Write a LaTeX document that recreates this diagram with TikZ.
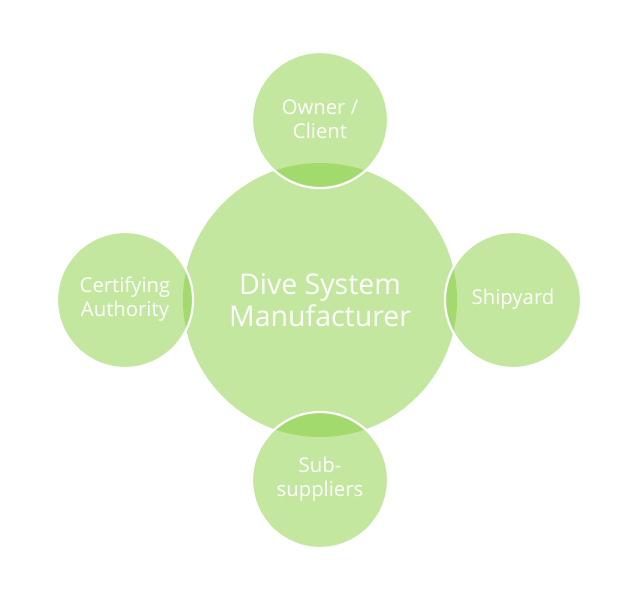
\documentclass[tikz,border=0pt]{standalone}
\usepackage{fontspec}
\setmainfont{Open Sans}
\definecolor{lgreen}{RGB}{195,231,158}
\definecolor{dgreen}{RGB}{162,218,110}
\tikzset{
  hub/.style={circle, fill=lgreen, minimum size=274pt, inner sep=0pt, text=white, font=\fontsize{28.5}{32}\selectfont, align=center},
  sat/.style={circle, fill=lgreen, minimum size=136pt, inner sep=0pt, text=white, font=\fontsize{20.3}{24}\selectfont, align=center},
  ring/.style={draw=white, line width=2.2pt}
}
\begin{document}
\begin{tikzpicture}[x=1pt,y=-1pt]
\useasboundingbox (0,0) rectangle (640,600);
\fill[lgreen] (320,300) circle (137);
\foreach \x/\y in {320/120, 320/480, 125/300, 513/300}{
  \fill[lgreen] (\x,\y) circle (68);
  \begin{scope}
    \clip (\x,\y) circle (68);
    \fill[dgreen] (320,300) circle (137);
  \end{scope}
  \draw[ring] (\x,\y) circle (68);
}
\node[hub, fill=none] (hub) at (320,300) {Dive System\\Manufacturer};
\node[sat, fill=none] (top) at (320,119) {Owner /\\Client};
\node[sat, fill=none] (bot) at (320,479) {Sub-\\suppliers};
\node[sat, fill=none] (lft) at (125,299) {Certifying\\Authority};
\node[sat, fill=none] (rgt) at (513,299) {Shipyard};
\end{tikzpicture}
\end{document}
